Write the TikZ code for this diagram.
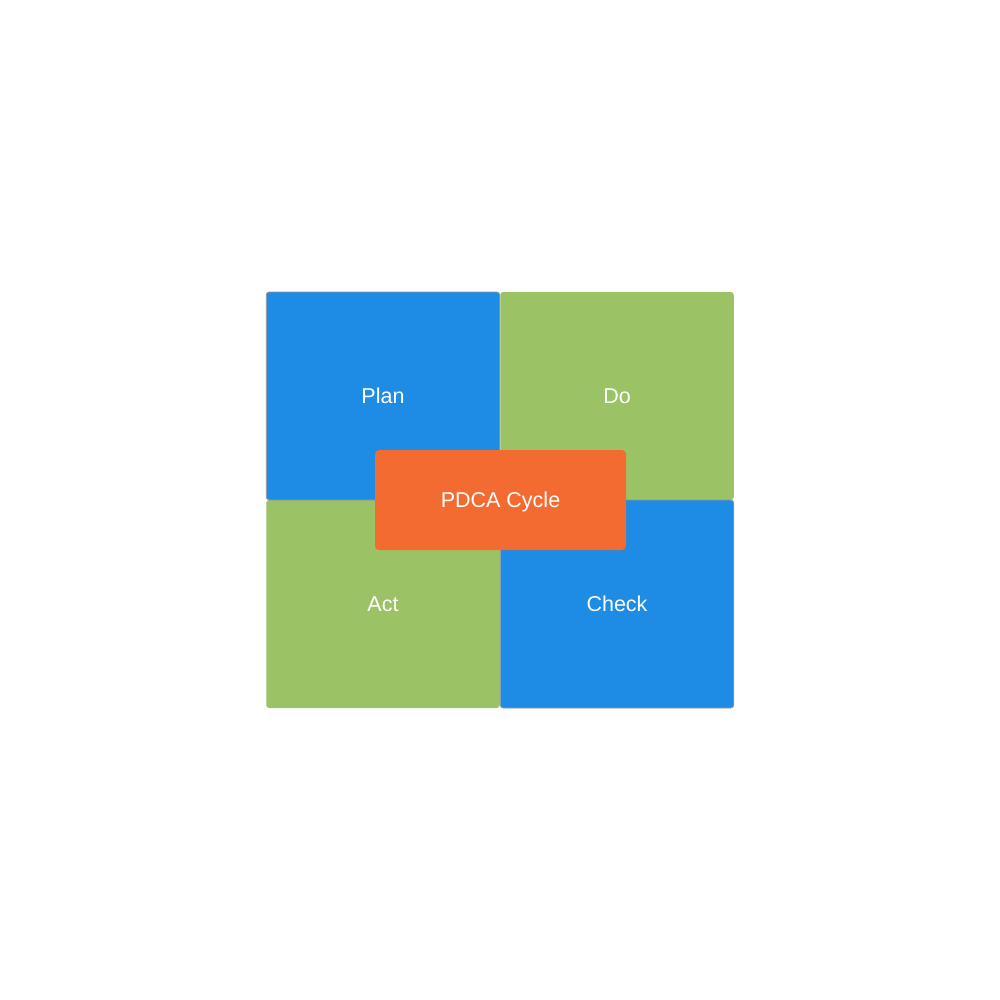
\documentclass[tikz,border=0pt]{standalone}
\usepackage{fontspec}
\setmainfont{Liberation Sans}
\definecolor{pblue}{RGB}{30,139,228}
\definecolor{pgreen}{RGB}{155,194,100}
\definecolor{porange}{RGB}{243,107,48}
\definecolor{pborder}{RGB}{150,150,150}
\tikzset{
  labeltext/.style={text=white, font=\fontsize{21.5}{24}\selectfont, text height=19.5pt, text depth=4.5pt},
  quad/.style={rectangle, rounded corners=3pt, inner sep=0pt, minimum width=233.5pt, minimum height=208pt, labeltext},
  bluequad/.style={quad, fill=pblue, draw=pborder, line width=0.8pt},
  greenquad/.style={quad, fill=pgreen},
  centerbox/.style={rectangle, rounded corners=4pt, inner sep=0pt, minimum width=251pt, minimum height=100pt,
    fill=porange, labeltext},
}
\begin{document}
\begin{tikzpicture}[x=1pt,y=-1pt]
\useasboundingbox[fill=white] (0,0) rectangle (1000,1000);
\node[greenquad] (do) at (617,396) {Do};
\node[greenquad] (act) at (383,604) {Act};
\node[bluequad] (plan) at (383,396) {Plan};
\node[bluequad] (check) at (617,604) {Check};
\node[centerbox] (pdca) at (500.5,500) {PDCA Cycle};
\end{tikzpicture}
\end{document}
